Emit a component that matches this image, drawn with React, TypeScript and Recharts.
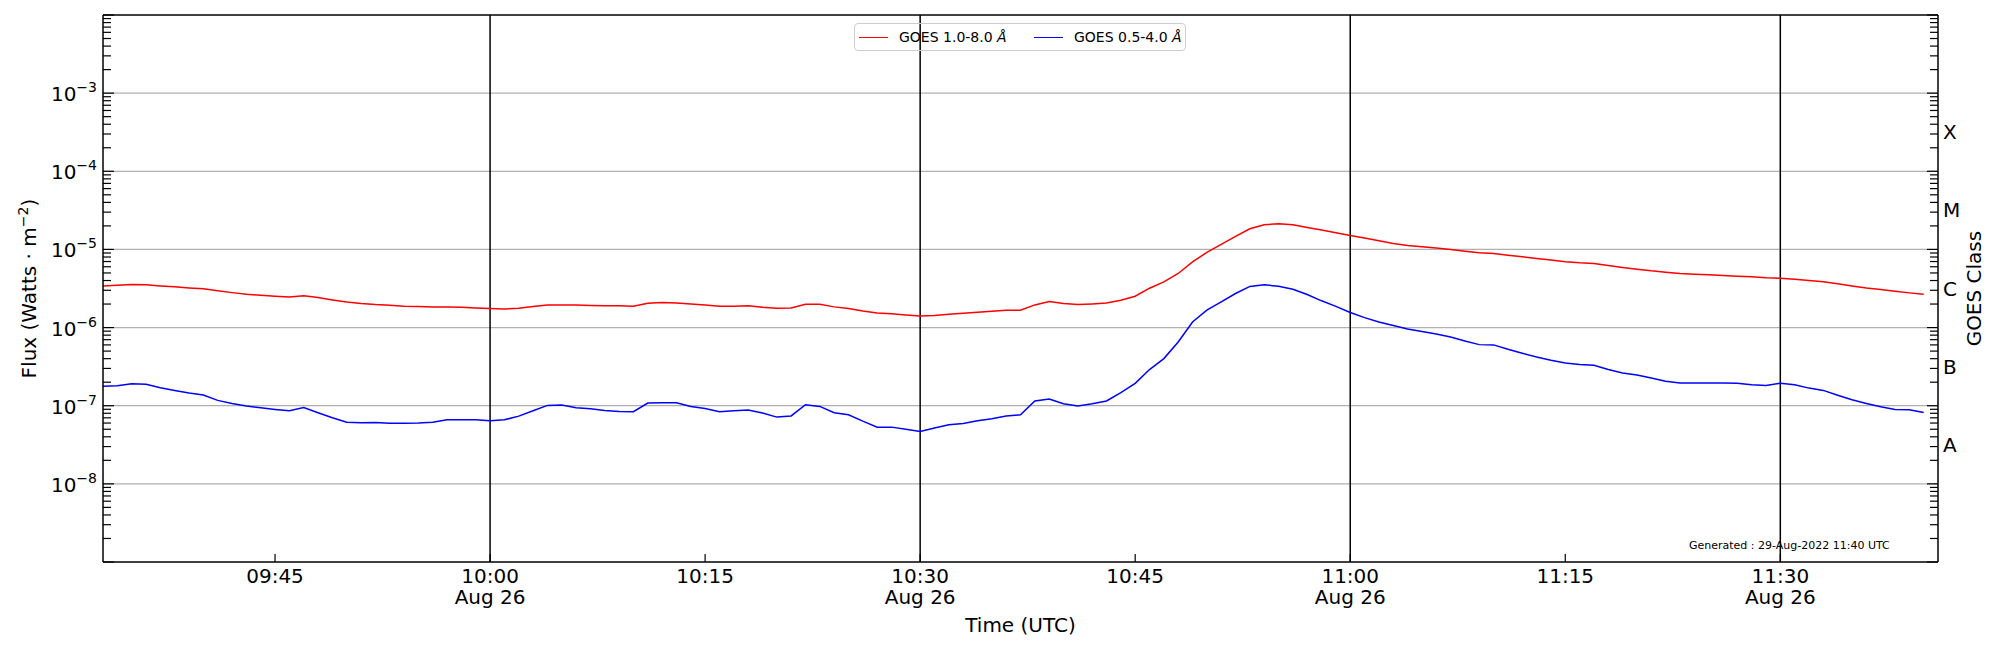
import { LineChart, Line, XAxis, YAxis, ReferenceLine } from "recharts";

// one-minute GOES XRS samples, 26 Aug 2022
const times = [
  "09:33", "09:34", "09:35", "09:36", "09:37", "09:38", "09:39", "09:40", "09:41", "09:42",
  "09:43", "09:44", "09:45", "09:46", "09:47", "09:48", "09:49", "09:50", "09:51", "09:52",
  "09:53", "09:54", "09:55", "09:56", "09:57", "09:58", "09:59", "10:00", "10:01", "10:02",
  "10:03", "10:04", "10:05", "10:06", "10:07", "10:08", "10:09", "10:10", "10:11", "10:12",
  "10:13", "10:14", "10:15", "10:16", "10:17", "10:18", "10:19", "10:20", "10:21", "10:22",
  "10:23", "10:24", "10:25", "10:26", "10:27", "10:28", "10:29", "10:30", "10:31", "10:32",
  "10:33", "10:34", "10:35", "10:36", "10:37", "10:38", "10:39", "10:40", "10:41", "10:42",
  "10:43", "10:44", "10:45", "10:46", "10:47", "10:48", "10:49", "10:50", "10:51", "10:52",
  "10:53", "10:54", "10:55", "10:56", "10:57", "10:58", "10:59", "11:00", "11:01", "11:02",
  "11:03", "11:04", "11:05", "11:06", "11:07", "11:08", "11:09", "11:10", "11:11", "11:12",
  "11:13", "11:14", "11:15", "11:16", "11:17", "11:18", "11:19", "11:20", "11:21", "11:22",
  "11:23", "11:24", "11:25", "11:26", "11:27", "11:28", "11:29", "11:30", "11:31", "11:32",
  "11:33", "11:34", "11:35", "11:36", "11:37", "11:38", "11:39", "11:40",
];

// 1.0-8.0 A channel
const goesLong = [
  3.41e-6, 3.48e-6, 3.55e-6, 3.52e-6, 3.41e-6, 3.32e-6, 3.22e-6, 3.13e-6, 2.95e-6, 2.8e-6,
  2.67e-6, 2.59e-6, 2.52e-6, 2.47e-6, 2.55e-6, 2.42e-6, 2.26e-6, 2.13e-6, 2.03e-6, 1.97e-6,
  1.93e-6, 1.87e-6, 1.86e-6, 1.84e-6, 1.84e-6, 1.82e-6, 1.78e-6, 1.75e-6, 1.73e-6, 1.77e-6,
  1.86e-6, 1.95e-6, 1.94e-6, 1.94e-6, 1.92e-6, 1.9e-6, 1.9e-6, 1.87e-6, 2.05e-6, 2.09e-6,
  2.07e-6, 2.01e-6, 1.95e-6, 1.87e-6, 1.87e-6, 1.9e-6, 1.82e-6, 1.77e-6, 1.78e-6, 1.99e-6,
  1.99e-6, 1.84e-6, 1.75e-6, 1.63e-6, 1.54e-6, 1.5e-6, 1.45e-6, 1.41e-6, 1.43e-6, 1.48e-6,
  1.52e-6, 1.57e-6, 1.62e-6, 1.67e-6, 1.67e-6, 1.95e-6, 2.16e-6, 2.03e-6, 1.97e-6, 2.01e-6,
  2.07e-6, 2.24e-6, 2.52e-6, 3.19e-6, 3.85e-6, 4.92e-6, 6.94e-6, 9.16e-6, 1.16e-5, 1.47e-5,
  1.84e-5, 2.07e-5, 2.13e-5, 2.07e-5, 1.91e-5, 1.77e-5, 1.63e-5, 1.51e-5, 1.4e-5, 1.29e-5,
  1.19e-5, 1.12e-5, 1.08e-5, 1.04e-5, 1.0e-5, 9.5e-6, 9.05e-6, 8.88e-6, 8.45e-6, 8.05e-6,
  7.67e-6, 7.3e-6, 6.94e-6, 6.74e-6, 6.62e-6, 6.24e-6, 5.88e-6, 5.59e-6, 5.32e-6, 5.12e-6,
  4.92e-6, 4.82e-6, 4.73e-6, 4.64e-6, 4.55e-6, 4.46e-6, 4.33e-6, 4.29e-6, 4.16e-6, 4.01e-6,
  3.85e-6, 3.63e-6, 3.41e-6, 3.22e-6, 3.07e-6, 2.92e-6, 2.78e-6, 2.67e-6,
];

// 0.5-4.0 A channel
const goesShort = [
  1.78e-7, 1.8e-7, 1.91e-7, 1.88e-7, 1.7e-7, 1.57e-7, 1.45e-7, 1.37e-7, 1.17e-7, 1.07e-7,
  9.9e-8, 9.4e-8, 8.97e-8, 8.63e-8, 9.5e-8, 8.13e-8, 7.02e-8, 6.16e-8, 6.05e-8, 6.1e-8,
  5.98e-8, 5.98e-8, 6.03e-8, 6.16e-8, 6.6e-8, 6.6e-8, 6.6e-8, 6.41e-8, 6.6e-8, 7.36e-8,
  8.63e-8, 1.01e-7, 1.02e-7, 9.4e-8, 9.17e-8, 8.7e-8, 8.45e-8, 8.4e-8, 1.08e-7, 1.09e-7,
  1.09e-7, 9.8e-8, 9.2e-8, 8.4e-8, 8.6e-8, 8.8e-8, 8.05e-8, 7.15e-8, 7.4e-8, 1.03e-7,
  9.8e-8, 8.13e-8, 7.67e-8, 6.35e-8, 5.32e-8, 5.32e-8, 5.01e-8, 4.69e-8, 5.17e-8, 5.7e-8,
  5.93e-8, 6.41e-8, 6.81e-8, 7.36e-8, 7.67e-8, 1.15e-7, 1.22e-7, 1.06e-7, 9.9e-8, 1.06e-7,
  1.15e-7, 1.47e-7, 1.93e-7, 2.9e-7, 4.01e-7, 6.53e-7, 1.18e-6, 1.67e-6, 2.13e-6, 2.73e-6,
  3.36e-6, 3.52e-6, 3.38e-6, 3.1e-6, 2.65e-6, 2.2e-6, 1.87e-6, 1.56e-6, 1.34e-6, 1.18e-6,
  1.06e-6, 9.6e-7, 8.89e-7, 8.28e-7, 7.58e-7, 6.73e-7, 6.05e-7, 6.0e-7, 5.27e-7, 4.69e-7,
  4.2e-7, 3.81e-7, 3.52e-7, 3.38e-7, 3.29e-7, 2.9e-7, 2.62e-7, 2.47e-7, 2.26e-7, 2.05e-7,
  1.95e-7, 1.95e-7, 1.95e-7, 1.95e-7, 1.94e-7, 1.86e-7, 1.82e-7, 1.94e-7, 1.86e-7, 1.68e-7,
  1.57e-7, 1.36e-7, 1.19e-7, 1.07e-7, 9.7e-8, 8.97e-8, 8.9e-8, 8.2e-8,
];

const seriesNames = ["GOES 1.0-8.0", "GOES 0.5-4.0"];
const seriesColors = ["#ff0000", "#0000ff"];
const timeRange = ["09:33", "11:41"];
const xTickTimes = ["09:45", "10:00", "10:15", "10:30", "10:45", "11:00", "11:15", "11:30"];
const dateTickTimes = ["10:00", "10:30", "11:00", "11:30"];
const dateLabel = "Aug 26";
const fluxDecades = [1e-8, 1e-7, 1e-6, 1e-5, 1e-4, 1e-3];
const goesClasses = ["A", "B", "C", "M", "X"];
const classCenters = [3.162e-8, 3.162e-7, 3.162e-6, 3.162e-5, 3.162e-4];
const generatedNote = "Generated : 29-Aug-2022 11:40 UTC";

const FONT = "'DejaVu Sans', sans-serif";

const toMin = (t: string) => {
  const [h, m] = t.split(":").map(Number);
  return h * 60 + m;
};
const toLabel = (v: number) =>
  `${String(Math.floor(v / 60)).padStart(2, "0")}:${String(v % 60).padStart(2, "0")}`;

const data = times.map((t, i) => ({ t: toMin(t), long: goesLong[i], short: goesShort[i] }));

// log ticks 1..9 x 10^n between 1e-9 and 1e-2
const logTicks: number[] = [];
for (let e = -9; e <= -3; e++) {
  for (let m = 1; m <= 9; m++) logTicks.push(Number(`${m}e${e}`));
}
logTicks.push(1e-2);

const isDecade = (v: number) => {
  const l = Math.log10(v);
  return Math.abs(l - Math.round(l)) < 1e-6;
};

function FluxTick({ x, y, payload }: any) {
  const v = payload.value;
  const major = isDecade(v);
  const exp = Math.round(Math.log10(v));
  const showLabel = major && exp >= -8 && exp <= -3;
  return (
    <g>
      <line x1={x} x2={x + (major ? 11 : 8)} y1={y} y2={y} stroke="#000" strokeWidth={1.2} />
      {showLabel && (
        <text x={x - 6} y={y + 8} textAnchor="end" fontSize={20} fontFamily={FONT} fill="#000">
          10
          <tspan dy={-9} fontSize={14}>{`\u2212${Math.abs(exp)}`}</tspan>
        </text>
      )}
    </g>
  );
}

function ClassTick({ x, y, payload }: any) {
  const v = payload.value;
  const ci = classCenters.indexOf(v);
  if (ci >= 0) {
    return (
      <text x={x + 5} y={y + 7} fontSize={20} fontFamily={FONT} fill="#000">
        {goesClasses[ci]}
      </text>
    );
  }
  return <line x1={x} x2={x - (isDecade(v) ? 11 : 8)} y1={y} y2={y} stroke="#000" strokeWidth={1.2} />;
}

function TimeTick({ x, y, payload }: any) {
  const label = toLabel(payload.value);
  const withDate = dateTickTimes.includes(label);
  return (
    <g>
      <line x1={x} x2={x} y1={y} y2={y - 8} stroke="#000" strokeWidth={1.2} />
      <text x={x} y={y + 21} textAnchor="middle" fontSize={20} fontFamily={FONT} fill="#000">
        {label}
      </text>
      {withDate && (
        <text x={x} y={y + 42} textAnchor="middle" fontSize={20} fontFamily={FONT} fill="#000">
          {dateLabel}
        </text>
      )}
    </g>
  );
}

// legend frame is see-through so the 10:30 line shows across it
function LegendBox() {
  return (
    <div
      style={{
        position: "absolute",
        left: 854,
        top: 23,
        boxSizing: "border-box",
        height: 28,
        width: 332,
        border: "1px solid #cccccc",
        borderRadius: 4,
        background: "transparent",
        fontFamily: FONT,
        fontSize: 14,
        color: "#000",
        pointerEvents: "none",
      }}
    >
      {seriesNames.map((name, i) => (
        <div key={name}>
          <div
            style={{
              position: "absolute",
              left: 4 + i * 175,
              top: 13,
              width: 29,
              height: 0,
              borderTop: `1.5px solid ${seriesColors[i]}`,
            }}
          />
          <span style={{ position: "absolute", left: 44 + i * 175, top: 4, whiteSpace: "nowrap", lineHeight: "18px" }}>
            {name} <i>Å</i>
          </span>
        </div>
      ))}
    </div>
  );
}

export default function App() {
  return (
    <div style={{ position: "absolute", left: 0, top: 0, width: 2000, height: 650, background: "#fff" }}>
      <LineChart width={2000} height={650} data={data} margin={{ top: 15, right: 0, bottom: 0, left: 0 }}>
        <XAxis
          dataKey="t"
          type="number"
          domain={[toMin(timeRange[0]), toMin(timeRange[1])]}
          ticks={xTickTimes.map(toMin)}
          interval={0}
          height={88}
          tickSize={0}
          tickMargin={0}
          tick={<TimeTick />}
          axisLine={{ stroke: "#000", strokeWidth: 1.5 }}
        />
        <YAxis
          yAxisId="left"
          scale="log"
          domain={[1e-9, 1e-2]}
          allowDataOverflow
          ticks={logTicks}
          interval={0}
          width={103}
          tickSize={0}
          tickMargin={0}
          tick={<FluxTick />}
          axisLine={{ stroke: "#000", strokeWidth: 1.5 }}
        />
        <YAxis
          yAxisId="right"
          orientation="right"
          scale="log"
          domain={[1e-9, 1e-2]}
          allowDataOverflow
          ticks={[...logTicks, ...classCenters]}
          interval={0}
          width={62}
          tickSize={0}
          tickMargin={0}
          tick={<ClassTick />}
          axisLine={{ stroke: "#000", strokeWidth: 1.5 }}
        />
        {fluxDecades.map((d) => (
          <ReferenceLine key={d} yAxisId="left" y={d} stroke="#b0b0b0" strokeWidth={1.2} />
        ))}
        {dateTickTimes.map((t) => (
          <ReferenceLine key={t} yAxisId="left" x={toMin(t)} stroke="#000" strokeWidth={1.5} />
        ))}
        <ReferenceLine yAxisId="left" y={1e-2} stroke="#000" strokeWidth={1.5} />
        <Line
          yAxisId="left"
          type="linear"
          dataKey="long"
          name={seriesNames[0]}
          stroke={seriesColors[0]}
          strokeWidth={1.5}
          dot={false}
          isAnimationActive={false}
        />
        <Line
          yAxisId="left"
          type="linear"
          dataKey="short"
          name={seriesNames[1]}
          stroke={seriesColors[1]}
          strokeWidth={1.5}
          dot={false}
          isAnimationActive={false}
        />
      </LineChart>
      <LegendBox />
      <svg
        width={2000}
        height={650}
        style={{ position: "absolute", left: 0, top: 0, pointerEvents: "none" }}
        fontFamily={FONT}
      >
        <text transform="translate(35.5,288.6) rotate(-90)" textAnchor="middle" fontSize={20} fill="#000">
          Flux (Watts · m
          <tspan dy={-8} fontSize={14}>{"\u22122"}</tspan>
          <tspan dy={8}>)</tspan>
        </text>
        <text transform="translate(1981,288.6) rotate(-90)" textAnchor="middle" fontSize={20} fill="#000">
          GOES Class
        </text>
        <text x={1020.5} y={632} textAnchor="middle" fontSize={20} fill="#000">
          Time (UTC)
        </text>
        <text x={1689} y={549} fontSize={11} fill="#000">
          {generatedNote}
        </text>
      </svg>
    </div>
  );
}
